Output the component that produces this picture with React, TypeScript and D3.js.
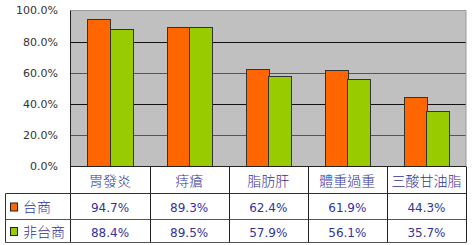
import React from "react";
import * as d3 from "d3";

const categories = ["胃發炎", "痔瘡", "脂肪肝", "體重過重", "三酸甘油脂"];
const seriesNames = ["台商", "非台商"];
const taishang = [94.7, 89.3, 62.4, 61.9, 44.3];
const nonTaishang = [88.4, 89.5, 57.9, 56.1, 35.7];
const seriesColors = ["#FF6600", "#99CC00"];
const yTicks = [0, 20, 40, 60, 80, 100];

const W = 472, H = 245;
const left = 70.5, right = 466, top = 10.5, bottom = 166.5;
const rowLines = [193.5, 219.5, 242.5];
const tableLeft = 5.5;

export default function App() {
  const series = [taishang, nonTaishang];
  const x = d3.scaleBand<string>().domain(categories).range([left, right]).padding(0);
  const x1 = d3.scaleBand<string>().domain(seriesNames).range([0, x.bandwidth()]).paddingInner(0).paddingOuter(0.75);
  const y = d3.scaleLinear().domain([0, 100]).range([bottom, top]);
  const fmt = (v: number) => v.toFixed(1) + "%";
  const num = "'DejaVu Sans', Verdana, sans-serif";
  const cjk = "'Noto Sans CJK TC', 'Noto Sans CJK SC', sans-serif";
  const navy = "#333399";
  const rowMid = [(bottom + rowLines[0]) / 2, (rowLines[0] + rowLines[1]) / 2, (rowLines[1] + rowLines[2]) / 2];

  return (
    <div style={{ position: "fixed", left: 0, top: 0, width: W, height: H, background: "#fff" }}>
      <svg width={W} height={H} style={{ display: "block" }}>
        <rect x={left} y={top} width={right - left} height={bottom - top} fill="#C0C0C0" />
        {yTicks.filter((t) => t > 0 && t < 100).map((t, i) => (
          <line key={t} x1={left} x2={right} y1={Math.round(y(t)) + 0.5} y2={Math.round(y(t)) + 0.5}
            stroke={i % 2 === 0 ? "#555" : "#111"} strokeWidth={1} />
        ))}
        <line x1={left} x2={right} y1={top} y2={top} stroke="#999" />
        <line x1={right} x2={right} y1={top} y2={bottom} stroke="#999" />
        {series.map((vals, si) =>
          categories.map((c, ci) => {
            const bx = (x(c) as number) + (x1(seriesNames[si]) as number);
            const by = y(vals[ci]);
            return (
              <rect key={si + "-" + ci} x={Math.round(bx) + 0.5} y={Math.round(by) + 0.5} width={Math.round(x1.bandwidth())}
                height={bottom - Math.round(by) - 0.5} fill={seriesColors[si]} stroke="#333" strokeWidth={1} />
            );
          })
        )}
        {yTicks.map((t) => (
          <text key={t} x={58} y={y(t)} dy="0.35em" textAnchor="end" fontFamily={num} fontSize={11} fill="#333">
            {fmt(t)}
          </text>
        ))}
        <line x1={left} x2={left} y1={top} y2={rowLines[2]} stroke="#222" />
        <line x1={left} x2={right} y1={bottom} y2={bottom} stroke="#222" />
        <line x1={tableLeft} x2={right} y1={rowLines[0]} y2={rowLines[0]} stroke="#333" />
        <line x1={tableLeft} x2={right} y1={rowLines[1]} y2={rowLines[1]} stroke="#555" />
        <line x1={tableLeft} x2={right} y1={rowLines[2]} y2={rowLines[2]} stroke="#555" />
        <line x1={tableLeft} x2={tableLeft} y1={rowLines[0]} y2={rowLines[2]} stroke="#333" />
        {categories.map((c) => (
          <line key={c} x1={Math.round((x(c) as number) + x.bandwidth()) + 0.5} x2={Math.round((x(c) as number) + x.bandwidth()) + 0.5}
            y1={bottom} y2={rowLines[2]} stroke="#222" />
        ))}
        {categories.map((c) => (
          <text key={c} x={(x(c) as number) + x.bandwidth() / 2} y={rowMid[0] + 1} dy="0.35em" textAnchor="middle"
            fontFamily={cjk} fontSize={14} fontWeight={300} fill={navy}>
            {c}
          </text>
        ))}
        {series.map((vals, si) => (
          <g key={si}>
            <rect x={10.5} y={rowMid[si + 1] - 3.5} width={7} height={8} fill={seriesColors[si]} stroke="#222" />
            <text x={23} y={rowMid[si + 1] + 1} dy="0.35em" fontFamily={cjk} fontSize={14} fontWeight={300} fill={navy}>
              {seriesNames[si]}
            </text>
            {vals.map((v, ci) => (
              <text key={ci} x={(x(categories[ci]) as number) + x.bandwidth() / 2} y={rowMid[si + 1] + 1.5} dy="0.35em"
                textAnchor="middle" fontFamily={num} fontSize={12} fill={navy}>
                {fmt(v)}
              </text>
            ))}
          </g>
        ))}
      </svg>
    </div>
  );
}
